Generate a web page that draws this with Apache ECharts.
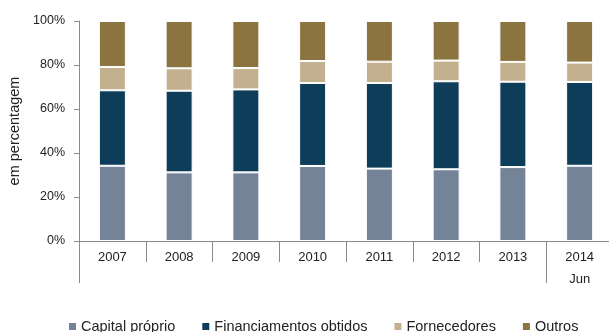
<!DOCTYPE html>
<html>
<head>
<meta charset="utf-8">
<script src="https://cdn.jsdelivr.net/npm/echarts@6/dist/echarts.min.js"></script>
<style>
  html, body { margin: 0; padding: 0; background: #fff; }
  #chart { width: 609px; height: 332px; }
</style>
</head>
<body>
<div id="chart"></div>
<script>
// Structure of company financing, share of total (%)
const categories = ['2007', '2008', '2009', '2010', '2011', '2012', '2013', '2014'];
const categoryLabels = ['2007', '2008', '2009', '2010', '2011', '2012', '2013', '2014\nJun'];
const seriesNames = ['Capital próprio', 'Financiamentos obtidos', 'Fornecedores', 'Outros'];
const capitalProprio = [34.2, 31.2, 31.2, 34.1, 32.9, 32.6, 33.6, 34.2];
const financiamentos = [34.3, 37.1, 37.7, 37.7, 38.9, 40.0, 38.8, 38.1];
const fornecedores = [10.6, 10.2, 9.7, 10.0, 9.7, 9.4, 9.0, 8.8];
const outros = [20.9, 21.5, 21.4, 18.2, 18.5, 18.0, 18.6, 18.9];
const seriesColors = ['#758398', '#0e3d5a', '#c2b08e', '#8c7440'];
const yTicks = [0, 20, 40, 60, 80, 100];

const axisGray = '#8a8a8a';
const font = 'Liberation Sans, Arial, sans-serif';

const chart = echarts.init(document.getElementById('chart'));

const values = [capitalProprio, financiamentos, fornecedores, outros];

chart.setOption({
  animation: false,
  textStyle: { fontFamily: font },
  grid: {
    left: 79, right: -4, top: 21, bottom: 91,
    containLabel: false,
    outerBoundsMode: 'none'
  },
  legend: {
    data: seriesNames,
    left: 67,
    top: 319,
    padding: 0,
    itemWidth: 9,
    itemHeight: 9,
    itemGap: 25,
    icon: 'rect',
    textStyle: { fontFamily: font, fontSize: 14.5, color: '#222', padding: [0, 0, 0, -1] }
  },
  xAxis: [
    {
      type: 'category',
      data: categories,
      position: 'bottom',
      axisLine: { show: true, lineStyle: { color: axisGray, width: 1 } },
      axisTick: { show: true, length: 21, lineStyle: { color: axisGray } },
      axisLabel: {
        interval: 0,
        margin: 5,
        fontSize: 13,
        color: '#222',
        lineHeight: 22,
        formatter: (v, i) => categoryLabels[i]
      }
    },
    {
      // second level of the category axis (groups the partial year)
      type: 'category',
      data: categories,
      position: 'bottom',
      axisLine: { show: false },
      axisTick: {
        show: true,
        length: 42,
        interval: (i) => i === 0 || i === 7,
        lineStyle: { color: axisGray }
      },
      axisLabel: { show: false }
    }
  ],
  yAxis: {
    type: 'value',
    min: yTicks[0],
    max: yTicks[yTicks.length - 1],
    interval: 20,
    name: 'em percentagem',
    nameLocation: 'middle',
    nameGap: 54,
    nameRotate: 90,
    nameTextStyle: { fontSize: 14.5, color: '#222' },
    axisLine: { show: true, lineStyle: { color: axisGray } },
    axisTick: { show: true, length: 5, lineStyle: { color: axisGray } },
    splitLine: { show: false },
    axisLabel: { margin: 14, fontSize: 12.5, color: '#222', formatter: '{value}%' }
  },
  series: seriesNames.map((name, k) => ({
    name,
    type: 'bar',
    stack: 'total',
    xAxisIndex: 0,
    barWidth: 27,
    data: values[k],
    itemStyle: { color: seriesColors[k], borderColor: '#ffffff', borderWidth: 1 }
  }))
});
</script>
</body>
</html>
